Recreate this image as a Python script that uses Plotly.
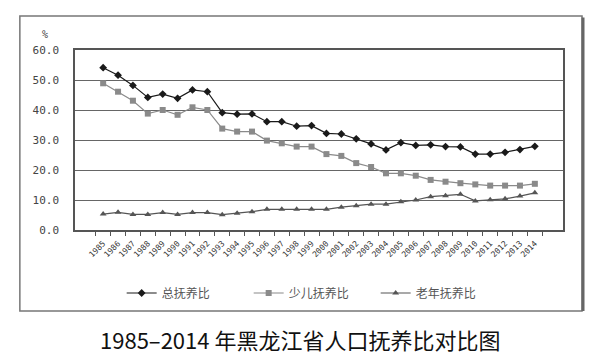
import plotly.graph_objects as go

years = [str(y) for y in range(1985, 2015)]
total = [54.1, 51.6, 48.2, 44.2, 45.3, 43.9, 46.7, 46.1, 39.1, 38.6,
         38.7, 36.1, 36.1, 34.6, 34.8, 32.2, 32.0, 30.4, 28.7, 26.7,
         29.1, 28.2, 28.4, 27.8, 27.7, 25.3, 25.3, 25.9, 26.8, 27.9]
youth = [48.9, 46.1, 43.1, 38.8, 40.0, 38.4, 40.9, 40.0, 33.8, 32.8,
         32.8, 29.8, 28.9, 27.8, 27.8, 25.3, 24.7, 22.3, 21.0, 18.9,
         18.9, 18.1, 16.7, 16.1, 15.6, 15.2, 14.8, 14.8, 14.8, 15.4]
elderly = [5.3, 5.9, 5.2, 5.2, 5.8, 5.2, 5.8, 5.8, 5.1, 5.6,
           6.1, 6.9, 6.9, 6.9, 6.9, 6.9, 7.6, 8.1, 8.6, 8.6,
           9.4, 10.0, 11.1, 11.4, 11.9, 9.7, 10.1, 10.4, 11.3, 12.4]
y_ticks = [0, 10, 20, 30, 40, 50, 60]
y_tick_text = ["0.0", "10.0", "20.0", "30.0", "40.0", "50.0", "60.0"]

fig = go.Figure()
fig.add_trace(go.Scatter(x=years, y=total, name="总抚养比", mode="lines+markers",
                         line=dict(color="#1a1a1a", width=1.2),
                         marker=dict(symbol="diamond", size=6, color="#1a1a1a")))
fig.add_trace(go.Scatter(x=years, y=youth, name="少儿抚养比", mode="lines+markers",
                         line=dict(color="#8a8a8a", width=1.2),
                         marker=dict(symbol="square", size=6, color="#8a8a8a")))
fig.add_trace(go.Scatter(x=years, y=elderly, name="老年抚养比", mode="lines+markers",
                         line=dict(color="#555555", width=1.2),
                         marker=dict(symbol="triangle-up", size=6, color="#555555")))

fig.update_layout(
    width=600, height=356,
    margin=dict(l=67, r=45, t=42, b=134, autoexpand=False),
    paper_bgcolor="white", plot_bgcolor="white",
    font=dict(family="DejaVu Sans Mono, monospace", color="#333", size=10),
    showlegend=True,
    legend=dict(orientation="h", x=0.486, xanchor="center", y=-0.35, yanchor="middle",
                font=dict(family="Noto Sans CJK SC", size=12, color="#555"),
                itemwidth=30, entrywidth=82, bgcolor="rgba(0,0,0,0)"),
    xaxis=dict(type="category", showgrid=False, showline=True, linecolor="#555",
               linewidth=1.5, ticks="outside", tickson="boundaries", ticklen=4,
               tickcolor="#555", tickangle=-45, automargin=False,
               ticklabelstandoff=4,
               tickfont=dict(size=8, family="DejaVu Sans Mono", color="#333"),
               mirror=True),
    yaxis=dict(range=[0, 60], tickvals=y_ticks, ticktext=y_tick_text,
               showgrid=True, gridcolor="#666", gridwidth=1, showline=True,
               linecolor="#555", linewidth=1.5, mirror=True, ticks="",
               ticklabelstandoff=12, automargin=False,
               tickfont=dict(size=11, family="DejaVu Sans Mono", color="#444"),
               zeroline=False),
    shapes=[
        dict(type="rect", xref="paper", yref="paper", layer="above",
             x0=-0.113, x1=1.039, y0=-0.45, y1=1.189,
             line=dict(color="#777777", width=1.5), fillcolor="rgba(0,0,0,0)"),
        dict(type="line", xref="paper", yref="paper", layer="above",
             x0=1.041, x1=1.041, y0=-0.45, y1=1.18,
             line=dict(color="#666666", width=3)),
    ],
    annotations=[
        dict(text="%", xref="paper", yref="paper", x=-0.072, y=1.128, showarrow=False,
             font=dict(size=10, color="#444")),
        dict(text="1985–2014 年黑龙江省人口抚养比对比图", xref="paper", yref="paper",
             x=0.461, y=-0.606, showarrow=False, yanchor="middle",
             font=dict(family="Noto Sans CJK SC", size=22, color="#111")),
    ],
)

fig.write_html("out.html")
